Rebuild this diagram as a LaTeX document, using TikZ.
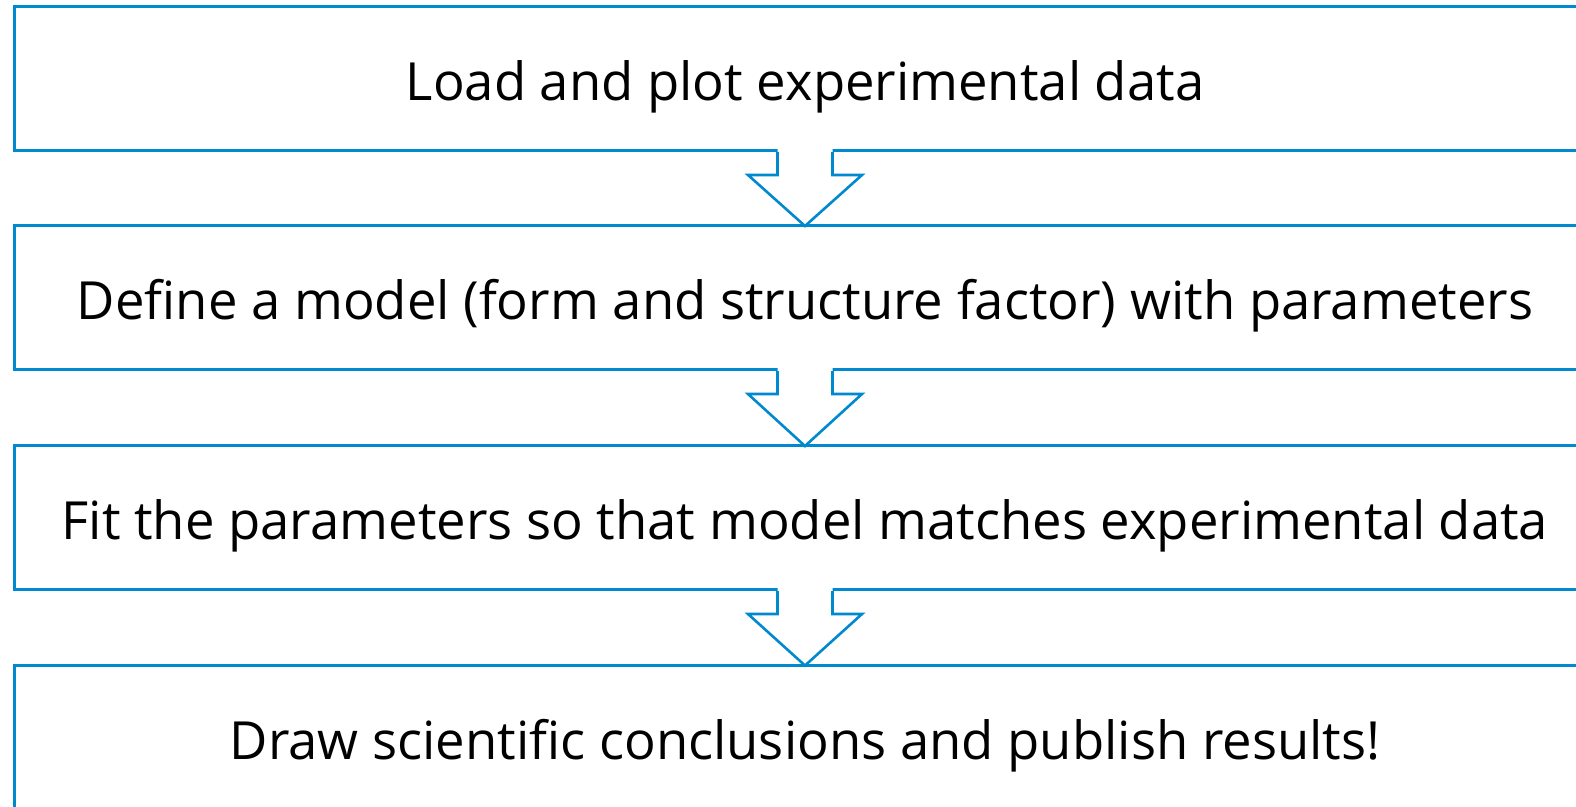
\documentclass[tikz,border=0pt]{standalone}
\usepackage{fontspec}
\setmainfont{Open Sans}
\usetikzlibrary{calc}
\definecolor{flowblue}{RGB}{0,137,207}
\begin{document}
\begin{tikzpicture}[x=1pt,y=1pt,
  stepbox/.style={draw=flowblue,line width=3pt,fill=white,rectangle,
    minimum width=1582pt,minimum height=144pt,inner sep=0pt,
    text height=44pt,text depth=0pt,
    font=\fontsize{52.6}{62}\selectfont},
  arrowfill/.style={fill=white},
  arrowline/.style={draw=flowblue,line width=2.6pt,line join=miter}]
\useasboundingbox (0,0) rectangle (1576,-806);
\node[stepbox] (b1) at (805,-78.5) {Load and plot experimental data};
\node[stepbox] (b2) at (805,-297.5) {Define a model (form and structure factor) with parameters};
\node[stepbox] (b3) at (805,-517.5) {Fit the parameters so that model matches experimental data};
\node[stepbox] (b4) at (805,-737) {Draw scientific conclusions and publish results!};
\foreach \a/\b in {b1/b2,b2/b3,b3/b4}{
  \coordinate (s) at (\a.south);
  \coordinate (t) at (\b.north);
  \fill[arrowfill] ($(s)+(-27.5,3)$) -- ($(s)+(-27.5,-23)$) -- ($(s)+(-57,-23)$)
     -- ($(t)+(0,-2)$) -- ($(s)+(57,-23)$) -- ($(s)+(27.5,-23)$) -- ($(s)+(27.5,3)$) -- cycle;
  \draw[arrowline] ($(s)+(-27.5,0)$) -- ($(s)+(-27.5,-23)$) -- ($(s)+(-57,-23)$)
     -- ($(t)+(0,-2)$) -- ($(s)+(57,-23)$) -- ($(s)+(27.5,-23)$) -- ($(s)+(27.5,0)$);
}
\end{tikzpicture}
\end{document}
